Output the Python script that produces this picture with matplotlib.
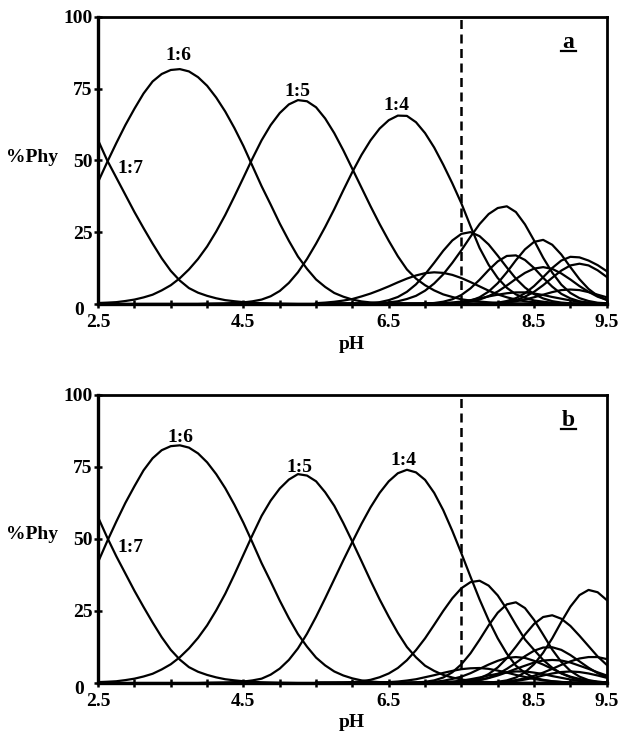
import numpy as np
import matplotlib.pyplot as plt
from matplotlib.lines import Line2D
from matplotlib.transforms import ScaledTranslation

plt.rcParams['font.family'] = ['Liberation Serif', 'DejaVu Serif']
plt.rcParams['font.weight'] = 'bold'

# ── pH grids ───────────────────────────────────────────────────────
# main species read every 0.125 pH over the whole range
PH = [2.5, 2.625, 2.75, 2.875, 3.0, 3.125, 3.25, 3.375, 3.5, 3.625, 3.75,
      3.875, 4.0, 4.125, 4.25, 4.375, 4.5, 4.625, 4.75, 4.875, 5.0, 5.125,
      5.25, 5.375, 5.5, 5.625, 5.75, 5.875, 6.0, 6.125, 6.25, 6.375, 6.5,
      6.625, 6.75, 6.875, 7.0, 7.125, 7.25, 7.375, 7.5, 7.625, 7.75,
      7.875, 8.0, 8.125, 8.25, 8.375, 8.5, 8.625, 8.75, 8.875, 9.0, 9.125,
      9.25, 9.375, 9.5]
# minor species only matter above pH 5.5
PH_HI = [5.5, 5.625, 5.75, 5.875, 6.0, 6.125, 6.25, 6.375, 6.5, 6.625,
         6.75, 6.875, 7.0, 7.125, 7.25, 7.375, 7.5, 7.625, 7.75, 7.875,
         8.0, 8.125, 8.25, 8.375, 8.5, 8.625, 8.75, 8.875, 9.0, 9.125,
         9.25, 9.375, 9.5]

# ── panel a: main species (on PH) ──────────────────────────────────
A_17 = ([57, 50, 44, 38, 32, 26.4, 21, 15.9, 11.5, 8.1, 5.5, 3.9, 2.8,
         1.95, 1.3, 0.92, 0.6, 0.4, 0.25, 0.17, 0.1, 0.05] + [0] * 35)
A_16 = ([42.5, 49.4, 56, 62.3, 68, 73.3, 77.5, 80.1, 81.5, 81.8, 81, 79,
         76, 71.9, 67, 61.3, 55, 48, 41, 34.6, 28, 22, 16.5, 12.2, 8.5,
         5.9, 3.8, 2.5, 1.5, 0.85, 0.5, 0.28, 0.15, 0.06] + [0] * 23)
A_15 = ([0.3, 0.43, 0.6, 1.0, 1.5, 2.25, 3.2, 4.7, 6.5, 8.95, 12, 15.65,
         20, 25.2, 31, 37.4, 44, 50.7, 57, 62.3, 66.5, 69.5, 71, 70.6,
         68.5, 64.6, 59.5, 53.5, 47, 40.5, 34, 27.8, 22, 16.6, 12, 8.8,
         6.5, 4.7, 3.3, 2.4, 1.6, 1.15, 0.8, 0.55, 0.35, 0.2, 0.1, 0.05]
        + [0] * 9)
A_14 = ([0] * 12 +
        [0.1, 0.15, 0.2, 0.3, 0.5, 0.9, 1.5, 2.65, 4.5, 7.3, 11, 15.65,
         21, 26.8, 33, 39.6, 46, 51.9, 57, 61.1, 64, 65.6, 65.5, 63.3,
         59.5, 54.5, 48.5, 42, 35, 27.1, 19.5, 13.6, 9, 5.6, 3.3, 2.1,
         1.2, 0.75, 0.4, 0.25, 0.1, 0.05, 0, 0, 0])

# ── panel a: minor species (on PH_HI) ──────────────────────────────
A_S1 = [0.25, 0.44, 0.73, 1.15, 1.7, 2.6, 3.6, 4.8, 6.1, 7.5, 8.8, 9.9,
        10.7, 11.0, 10.8, 10.1, 9.0, 7.6, 6.1, 4.6, 3.3, 2.3, 1.5, 0.9,
        0.55, 0.3, 0.15, 0.08, 0.04, 0, 0, 0, 0]
A_S2 = [0, 0, 0, 0, 0.05, 0.1, 0.3, 0.6, 1.3, 2.4, 4.2, 6.8, 10.3, 14.3,
        18.5, 22.1, 24.4, 25.0, 23.6, 20.7, 16.8, 12.7, 8.8, 5.7, 3.4,
        1.9, 0.95, 0.45, 0.2, 0.08, 0.03, 0, 0]
A_S3 = [0, 0, 0, 0, 0, 0.05, 0.1, 0.25, 0.5, 0.9, 1.7, 2.8, 4.6, 7.1,
        10.3, 14.3, 18.7, 23.4, 27.8, 31.3, 33.4, 34.0, 32.0, 27.7, 22.1,
        16.1, 10.9, 6.7, 3.8, 2.0, 1.0, 0.4, 0.2]
A_S4 = [0, 0, 0, 0, 0, 0, 0, 0, 0, 0, 0, 0.04, 0.1, 0.3, 0.75, 1.6, 3.1,
        5.4, 8.4, 11.8, 14.8, 16.7, 16.9, 15.3, 12.5, 9.1, 6.0, 3.5, 1.9,
        0.9, 0.4, 0.15, 0.05]
A_S5 = [0, 0, 0, 0, 0, 0, 0, 0, 0, 0, 0, 0, 0, 0.02, 0.07, 0.2, 0.5, 1.1,
        2.3, 4.3, 7.2, 11.0, 15.2, 19.0, 21.6, 22.3, 20.6, 17.2, 12.8,
        8.6, 5.2, 2.8, 1.4]
A_S6 = [0, 0, 0, 0, 0, 0, 0, 0, 0, 0, 0, 0, 0, 0.02, 0.06, 0.16, 0.37,
        0.8, 1.5, 2.7, 4.3, 6.4, 8.7, 10.8, 12.3, 12.8, 12.2, 10.6, 8.5,
        6.2, 4.2, 2.5, 1.4]
A_S7 = [0, 0, 0, 0, 0, 0, 0, 0, 0, 0, 0, 0, 0, 0, 0, 0, 0, 0.02, 0.06,
        0.16, 0.4, 1.0, 2.0, 3.7, 6.2, 9.3, 12.5, 15.1, 16.4, 16.2, 15.1,
        13.5, 11.4]
A_S8 = [0, 0, 0, 0, 0, 0, 0, 0, 0, 0, 0, 0, 0, 0, 0, 0, 0, 0, 0.04, 0.1,
        0.3, 0.6, 1.3, 2.5, 4.2, 6.5, 9.1, 11.6, 13.4, 14.0, 13.4, 11.7,
        9.4]
A_S9 = [0, 0, 0, 0, 0, 0, 0, 0, 0, 0, 0, 0, 0.06, 0.13, 0.26, 0.5, 0.8,
        1.3, 1.9, 2.6, 3.2, 3.7, 4.0, 4.0, 3.6, 3.1, 2.4, 1.8, 1.2, 0.7,
        0.4, 0.25, 0.13]
A_S10 = [0, 0, 0, 0, 0, 0, 0, 0, 0, 0, 0, 0, 0, 0, 0, 0, 0, 0, 0.04, 0.1,
         0.2, 0.45, 0.9, 1.5, 2.3, 3.2, 4.1, 4.8, 5.0, 4.8, 4.1, 3.2, 2.3]

# ── panel b: main species (on PH) ──────────────────────────────────
B_17 = ([57.5, 50.5, 44, 38, 32, 26.4, 21, 15.9, 11.5, 8.1, 5.5, 3.9, 2.8,
         1.95, 1.3, 0.92, 0.6, 0.4, 0.25, 0.17, 0.1, 0.05] + [0] * 35)
B_16 = ([42, 49.2, 56, 62.5, 68.3, 73.8, 78, 80.8, 82.2, 82.5, 81.7, 79.7,
         76.6, 72.5, 67.6, 61.9, 55.6, 48.7, 41.6, 35.2, 28.6, 22.5, 17,
         12.6, 8.8, 6.1, 4, 2.6, 1.6, 0.9, 0.5, 0.3, 0.15, 0.06] + [0] * 23)
B_15 = ([0.3, 0.43, 0.6, 1.0, 1.5, 2.25, 3.2, 4.7, 6.5, 8.95, 12, 15.65,
         20, 25.2, 31, 37.6, 44.5, 51.4, 58, 63.3, 67.5, 70.6, 72.5, 72.0,
         70, 66.2, 61.5, 55.5, 49, 42.3, 35.5, 29, 23, 17.4, 12.5, 8.9, 6,
         4.2, 2.8, 1.9, 1.2, 0.8, 0.5, 0.32, 0.2, 0.1, 0.05] + [0] * 10)
B_14 = ([0] * 12 +
        [0.1, 0.15, 0.2, 0.3, 0.5, 0.9, 1.5, 2.9, 5, 8.0, 12, 17.1, 23,
         29.4, 36, 42.6, 49, 55.25, 61, 66, 70, 72.8, 74, 73.1, 70.5, 66,
         60, 52.8, 45, 36.9, 29, 21.8, 15.5, 10.2, 6, 3.5, 1.8, 1.1, 0.6,
         0.35, 0.2, 0.1, 0, 0, 0])

# ── panel b: minor species (on PH_HI) ──────────────────────────────
B_S1 = [0, 0.03, 0.07, 0.15, 0.3, 0.6, 1.1, 2.0, 3.3, 5.2, 7.9, 11.4,
        15.5, 20.2, 25.0, 29.4, 32.9, 35.0, 35.5, 33.8, 30.4, 25.6, 20.2,
        15.1, 11.5, 8.0, 5.3, 3.3, 2.0, 1.1, 0.6, 0.3, 0.15]
B_S2 = [0, 0, 0, 0, 0, 0, 0, 0, 0, 0, 0.06, 0.17, 0.4, 0.9, 1.9, 3.7,
        6.5, 10.3, 15.0, 20.0, 24.4, 27.3, 28.0, 26.0, 21.9, 16.8, 11.6,
        7.3, 4.2, 2.2, 1.0, 0.45, 0.2]
B_S3 = [0, 0, 0, 0, 0, 0, 0, 0, 0, 0, 0, 0, 0, 0, 0.05, 0.14, 0.35, 0.8,
        1.6, 3.1, 5.4, 8.6, 12.6, 16.8, 20.5, 22.9, 23.5, 22.3, 19.8,
        16.4, 12.8, 9.2, 6.3]
B_S4 = [0, 0, 0, 0, 0, 0, 0, 0, 0, 0, 0, 0, 0, 0, 0, 0, 0, 0.02, 0.06,
        0.17, 0.4, 0.9, 1.9, 3.7, 6.5, 10.5, 15.5, 21.2, 26.5, 30.5, 32.3,
        31.5, 28.8]
B_S5 = [0, 0, 0, 0, 0, 0, 0, 0, 0, 0, 0, 0, 0, 0, 0.03, 0.09, 0.2, 0.5,
        1.0, 1.8, 3.1, 4.9, 7.0, 9.3, 11.2, 12.3, 12.4, 11.5, 9.7, 7.5,
        5.3, 3.4, 2.0]
B_S6 = [0, 0, 0, 0, 0, 0, 0, 0, 0, 0, 0, 0, 0, 0, 0, 0, 0, 0, 0.07,
        0.15, 0.3, 0.6, 1.0, 1.6, 2.5, 3.6, 4.9, 6.3, 7.5, 8.5, 9.0, 9.0,
        8.3]
B_S7 = [0, 0, 0, 0, 0, 0, 0, 0, 0, 0, 0, 0, 0, 0, 0.09, 0.18, 0.35, 0.64,
        1.1, 1.7, 2.6, 3.7, 4.9, 6.0, 7.1, 7.8, 8.0, 7.8, 7.1, 6.0, 4.9,
        3.7, 2.6]
B_S8 = [0, 0, 0, 0, 0, 0, 0, 0, 0, 0, 0, 0.08, 0.19, 0.4, 0.76, 1.4, 2.2,
        3.4, 4.9, 6.4, 7.7, 8.7, 9.0, 8.7, 7.7, 6.4, 4.9, 3.4, 2.2, 1.4,
        0.76, 0.4, 0.19]
B_S9 = [0, 0, 0, 0, 0, 0, 0.08, 0.16, 0.3, 0.5, 0.85, 1.3, 2.0, 2.7, 3.5,
        4.2, 4.8, 5.1, 5.2, 4.9, 4.3, 3.6, 2.8, 2.1, 1.4, 0.9, 0.6, 0.33,
        0.18, 0.1, 0.05, 0, 0]
B_S10 = [0, 0, 0, 0, 0, 0, 0, 0, 0, 0, 0, 0, 0.06, 0.13, 0.26, 0.5, 0.8,
         1.3, 1.9, 2.6, 3.2, 3.7, 4.0, 4.0, 3.6, 3.1, 2.4, 1.8, 1.2, 0.7,
         0.4, 0.25, 0.13]
B_S11 = [0, 0, 0, 0, 0, 0, 0, 0, 0, 0, 0, 0, 0, 0, 0, 0, 0, 0, 0.03,
         0.08, 0.16, 0.36, 0.7, 1.2, 1.8, 2.6, 3.3, 3.8, 4.0, 3.8, 3.3,
         2.6, 1.8]

# species labels: (text, pH, %Phy at text baseline)
LABELS_A = [("1:6", 3.6, 85.0), ("1:5", 5.24, 72.3),
            ("1:4", 6.61, 67.4), ("1:7", 2.95, 45.6)]
LABELS_B = [("1:6", 3.63, 83.7), ("1:5", 5.27, 73.2),
            ("1:4", 6.7, 75.5), ("1:7", 2.95, 45.5)]

X_TICKS = [2.5, 3.0, 3.5, 4.0, 4.5, 5.0, 5.5, 6.0, 6.5, 7.0, 7.5, 8.0,
           8.5, 9.0, 9.5]
X_TICKLABELS = ['2.5', '', '', '', '4.5', '', '', '', '6.5', '', '', '',
                '8.5', '', '9.5']
Y_TICKS = [0, 25, 50, 75, 100]
DASH_PH = 7.5

FS = 14


def draw_panel(ax, main, minor, labels, tag):
    for ys in main:
        ax.plot(PH, ys, color='black', lw=1.6, solid_joinstyle='round')
    for ys in minor:
        ax.plot(PH_HI, ys, color='black', lw=1.6, solid_joinstyle='round')
    ax.axvline(DASH_PH, color='black', lw=1.8, ls=(0, (3.6, 2.2)))

    for txt, x, y in labels:
        ax.text(x, y, txt, ha='center', va='baseline', fontsize=FS,
                fontweight='bold')

    # panel letter, underlined
    ax.text(0.925, 0.893, tag, transform=ax.transAxes, ha='center',
            va='baseline', fontsize=FS + 3, fontweight='bold')
    ax.add_line(Line2D([0.911, 0.940], [0.881, 0.881],
                       transform=ax.transAxes, color='black', lw=1.6))

    ax.set_xlim(2.5, 9.5)
    ax.set_ylim(0, 100)
    ax.set_xticks(X_TICKS)
    ax.set_xticklabels(X_TICKLABELS)
    ax.set_yticks(Y_TICKS)
    ax.set_yticklabels([str(v) for v in Y_TICKS])
    ax.tick_params(direction='inout', length=6, width=1.8,
                   labelsize=FS, colors='black')
    ax.tick_params(axis='x', pad=4.5)
    ax.tick_params(axis='y', pad=1)
    for lab in ax.get_xticklabels() + ax.get_yticklabels():
        lab.set_fontweight('bold')
    # the "0" sits lower-left of the corner in the original
    zero = ax.get_yticklabels()[0]
    zero.set_transform(zero.get_transform() +
                       ScaledTranslation(-6 / 72, -3 / 72,
                                         ax.figure.dpi_scale_trans))
    for side in ['top', 'right']:
        ax.spines[side].set_linewidth(2.0)
    for side in ['left', 'bottom']:
        ax.spines[side].set_linewidth(2.4)


fig = plt.figure(figsize=(6.21, 7.34), dpi=100)
ax_a = fig.add_axes([0.158, 0.586, 0.819, 0.391])
ax_b = fig.add_axes([0.158, 0.0695, 0.819, 0.3925])

draw_panel(ax_a, [A_17, A_16, A_15, A_14],
           [A_S1, A_S2, A_S3, A_S4, A_S5, A_S6, A_S7, A_S8, A_S9, A_S10],
           LABELS_A, 'a')
draw_panel(ax_b, [B_17, B_16, B_15, B_14],
           [B_S1, B_S2, B_S3, B_S4, B_S5, B_S6, B_S7, B_S8, B_S9, B_S10,
            B_S11],
           LABELS_B, 'b')

# axis titles placed as in the original figure
fig.text(0.052, 0.779, '%Phy', ha='center', va='baseline', fontsize=FS,
         fontweight='bold')
fig.text(0.052, 0.266, '%Phy', ha='center', va='baseline', fontsize=FS,
         fontweight='bold')
fig.text(0.567, 0.5245, 'pH', ha='center', va='baseline', fontsize=FS,
         fontweight='bold')
fig.text(0.567, 0.009, 'pH', ha='center', va='baseline', fontsize=FS,
         fontweight='bold')

fig.savefig('out.png', dpi=100)
